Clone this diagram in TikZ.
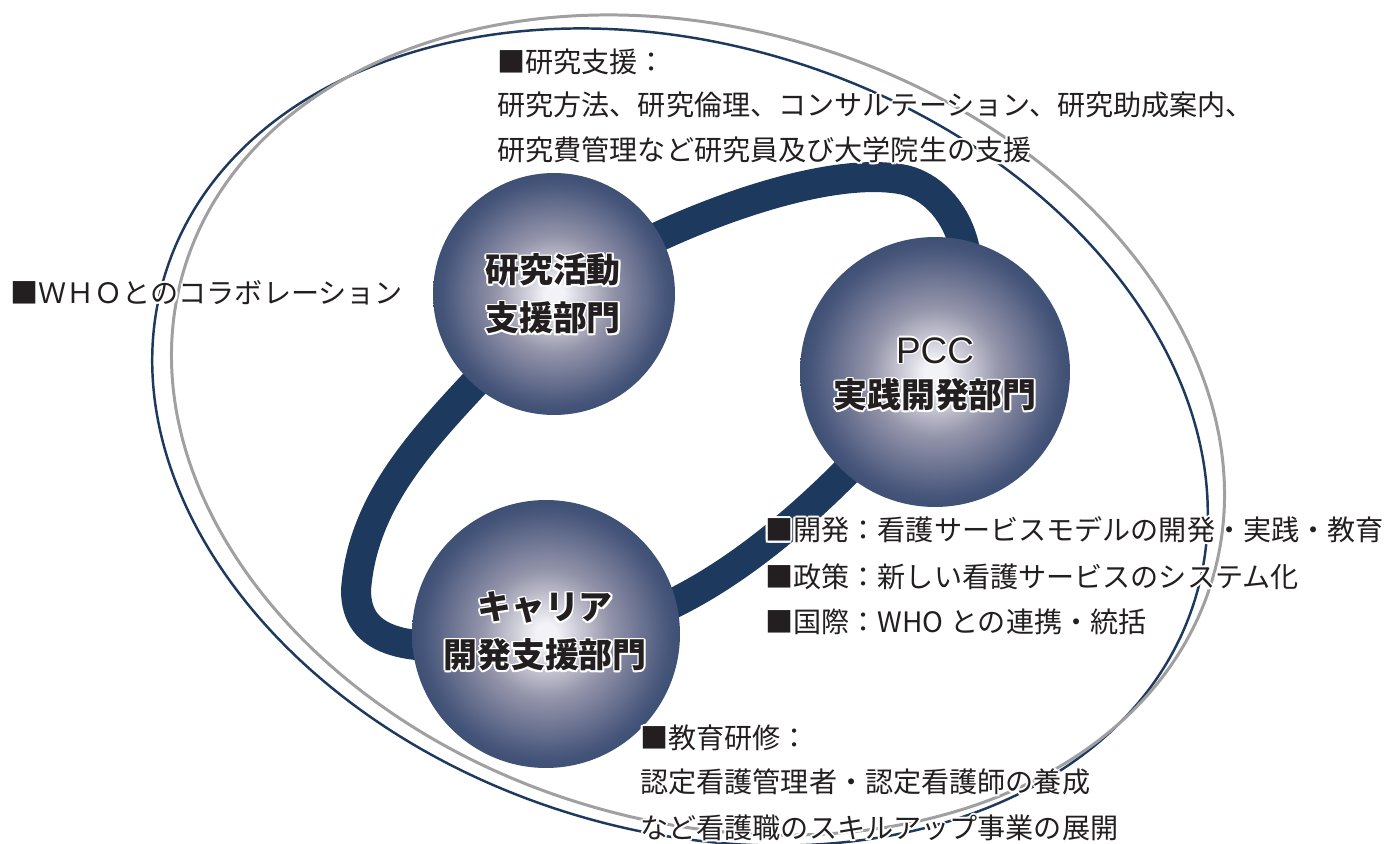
\documentclass[tikz,border=0pt]{standalone}
\usepackage{fontspec}
\setmainfont{Noto Sans CJK JP}
\newfontfamily\pccfont{Liberation Sans}
\definecolor{navy}{HTML}{1D3A5E}
\definecolor{ringgray}{HTML}{A0A0A3}
\definecolor{ink}{HTML}{231F20}
\definecolor{ballc}{HTML}{F2F2F7}
\definecolor{ballm}{HTML}{9494AA}
\definecolor{balld}{HTML}{46557A}
\pgfdeclareradialshading{ballshade}{\pgfpoint{0bp}{0bp}}{color(0bp)=(ballc); color(2bp)=(ballc); color(12bp)=(ballm); color(23bp)=(balld); color(34bp)=(navy); color(50bp)=(navy)}
\newlength\hw
\newcommand\hc[3]{\rlap{\kern#1\raisebox{#2}{\color{white}#3}}}
\newcommand\halo[2][1.2pt]{\setlength\hw{#1}\leavevmode\hc{\hw}{0pt}{#2}\hc{-\hw}{0pt}{#2}\hc{0pt}{\hw}{#2}\hc{0pt}{-\hw}{#2}\hc{.707\hw}{.707\hw}{#2}\hc{-.707\hw}{.707\hw}{#2}\hc{.707\hw}{-.707\hw}{#2}\hc{-.707\hw}{-.707\hw}{#2}#2}
\begin{document}
\begin{tikzpicture}[x=0.02cm,y=-0.02cm,
  txt/.style={inner sep=0pt, text=ink, font=\fontsize{16pt}{16pt}\selectfont, text height=14pt, text depth=2pt, anchor=west},
  ctext/.style={inner sep=0pt, text=ink, font=\fontsize{19.3pt}{19.3pt}\selectfont\bfseries, text height=17pt, text depth=2.3pt},
  ball/.style={circle, inner sep=0pt, shading=ballshade},
  band/.style={draw=navy, line width=0.6cm},
  navyring/.style={draw=navy, line width=1.4pt},
  grayring/.style={draw=ringgray, line width=1.7pt}]
\fill[white] (0,0) rectangle (1390,844);
\useasboundingbox (0,0) rectangle (1390,844);
\coordinate (aTop) at (905,180);
\coordinate (bLeft) at (356,590);
\path (554,294) coordinate (resC) (935,372) coordinate (pccC) (546,634) coordinate (carC);
% bands
\draw[band] (resC) .. controls (650,230) and (820,162) .. (aTop) .. controls (955,192) and (1000,270) .. (pccC);
\draw[band] (resC) .. controls (470,400) and (365,470) .. (bLeft) .. controls (356,640) and (400,662) .. (carC);
\draw[band] (carC) .. controls (660,640) and (800,540) .. (pccC);
% circles
\node[ball, minimum size=4.84cm] (res) at (resC) {};
\node[ball, minimum size=5.4cm] (pcc) at (pccC) {};
\node[ball, minimum size=5.36cm] (car) at (carC) {};
% rings
\draw[navyring, rotate around={-18:(680,437)}] (680,437) ellipse [x radius=540, y radius=392];
\draw[grayring, rotate around={-17:(698,425)}] (698,425) ellipse [x radius=537, y radius=396];
% circle texts
\node[ctext] (res1) at (553,270) {\halo[0.9pt]{研究活動}};
\node[ctext] (res2) at (553,318) {\halo[0.9pt]{支援部門}};
\node[ctext, font=\fontsize{21pt}{21pt}\selectfont\pccfont, text height=15pt, text depth=0pt] (pcc1) at (935,350) {\halo[0.9pt]{PCC}};
\node[ctext] (pcc2) at (935,395) {\halo[0.9pt]{実践開発部門}};
\node[ctext] (car1) at (545,607) {\halo[0.9pt]{キャリア}};
\node[ctext] (car2) at (545,655) {\halo[0.9pt]{開発支援部門}};
% body texts
\node[txt] (t1) at (497,62) {\halo{■研究支援：}};
\node[txt] (t2) at (497,105) {\halo{研究方法、研究倫理、コンサルテーション、研究助成案内、}};
\node[txt] (t3) at (497,150) {\halo{研究費管理など研究員及び大学院生の支援}};
\node[txt] (w1) at (10,293) {\halo{■ＷＨＯとのコラボレーション}};
\node[txt] (r1) at (765,530) {\halo{■開発：看護サービスモデルの開発・実践・教育}};
\node[txt] (r2) at (765,577) {\halo{■政策：新しい看護サービスのシステム化}};
\node[txt] (r3) at (765,622) {\halo{■国際：WHO との連携・統括}};
\node[txt] (b1) at (640,738) {\halo{■教育研修：}};
\node[txt] (b2) at (640,782) {\halo{認定看護管理者・認定看護師の養成}};
\node[txt] (b3) at (640,828) {\halo{など看護職のスキルアップ事業の展開}};
\end{tikzpicture}
\end{document}
